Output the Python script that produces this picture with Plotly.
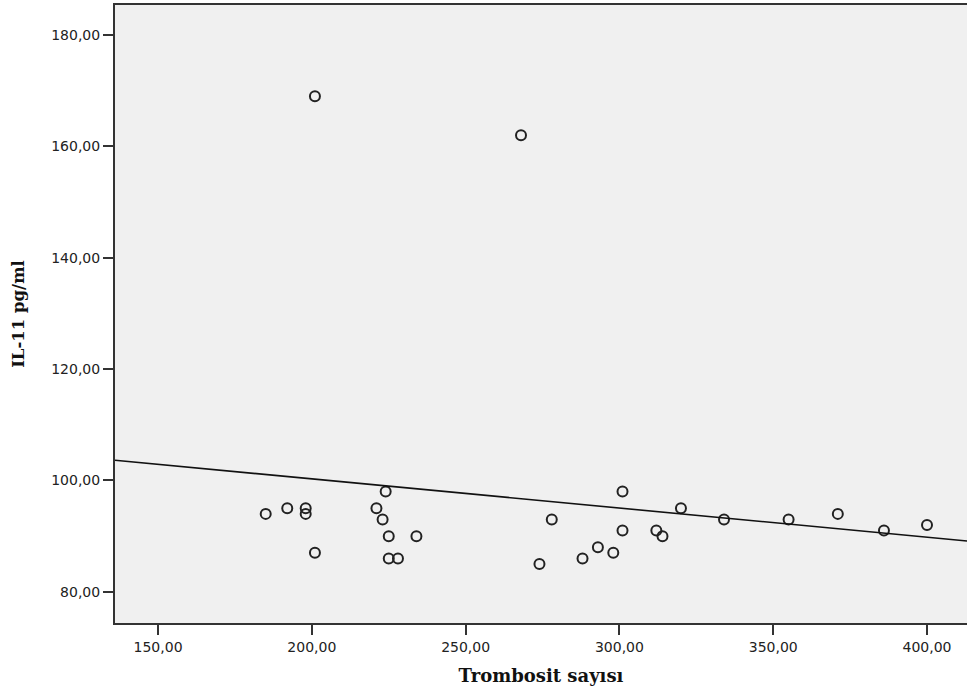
import numpy as np
import plotly.graph_objects as go

# Data
trombosit = [185, 192, 198, 198, 201, 221, 224, 223, 225, 234, 225, 228,
             274, 278, 288, 293, 298, 301, 301, 312, 314, 320, 334, 355,
             371, 386, 400, 201, 268]
il11 = [94, 95, 95, 94, 87, 95, 98, 93, 90, 90, 86, 86,
        85, 93, 86, 88, 87, 98, 91, 91, 90, 95, 93, 93,
        94, 91, 92, 169, 162]

x_range = [136, 413]
y_range = [74.4, 185.4]
x_ticks = [150, 200, 250, 300, 350, 400]
y_ticks = [80, 100, 120, 140, 160, 180]

slope, intercept = np.polyfit(trombosit, il11, 1)
fit_x = np.array(x_range, dtype=float)
fit_y = intercept + slope * fit_x

fig = go.Figure()
fig.add_trace(go.Scatter(
    x=trombosit, y=il11, mode="markers",
    marker=dict(symbol="circle-open", size=10, color="#222222",
                line=dict(width=2, color="#222222")),
    showlegend=False, hoverinfo="x+y"))
fig.add_trace(go.Scatter(
    x=fit_x, y=fit_y, mode="lines",
    line=dict(color="#111111", width=1.6),
    showlegend=False, hoverinfo="skip"))

tick_font = dict(family="DejaVu Sans", size=14, color="#222222")

fig.update_layout(
    width=967, height=695,
    margin=dict(l=115, r=0, t=5, b=72),
    paper_bgcolor="white", plot_bgcolor="#F0F0F0",
    xaxis=dict(range=x_range, tickvals=x_ticks,
               ticktext=[f"{v},00" for v in x_ticks],
               showgrid=False, zeroline=False,
               showline=True, linecolor="#333333", linewidth=2, mirror=True,
               ticks="outside", ticklen=10, tickwidth=2, tickcolor="#333333",
               tickfont=tick_font,
               title=dict(text="<b>Trombosit sayısı</b>",
                          font=dict(family="DejaVu Serif", size=18, color="#111111"),
                          standoff=16)),
    yaxis=dict(range=y_range, tickvals=y_ticks,
               ticktext=[f"{v},00" for v in y_ticks],
               showgrid=False, zeroline=False,
               showline=True, linecolor="#333333", linewidth=2,
               ticks="outside", ticklen=10, tickwidth=2, tickcolor="#333333",
               tickfont=tick_font,
               title=dict(text="<b>IL-11 pg/ml</b>",
                          font=dict(family="DejaVu Serif", size=16.5, color="#111111"),
                          standoff=22)),
)

fig.write_html("out.html")
